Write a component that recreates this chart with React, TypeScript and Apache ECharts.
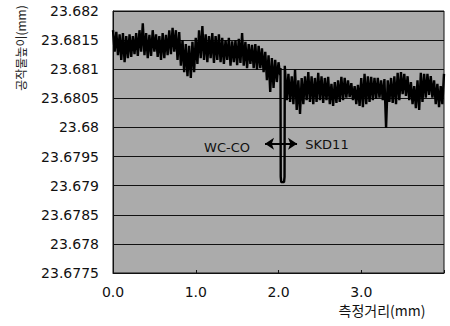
import React, { useEffect, useRef } from 'react';
import * as echarts from 'echarts';

// Measured workpiece height (mm) along measuring distance, WC-Co region (x = i * 0.02 mm)
const wcValues = [
  23.68167, 23.6813, 23.68164, 23.68124, 23.6816, 23.68116, 23.68162, 23.68112, 23.68157, 23.68119,
  23.6816, 23.68121, 23.68157, 23.68126, 23.68162, 23.68123, 23.68167, 23.6813, 23.68179, 23.68124,
  23.68162, 23.68119, 23.68159, 23.68123, 23.68167, 23.6813, 23.6816, 23.68121, 23.68157, 23.68116,
  23.68162, 23.68119, 23.68159, 23.68124, 23.68167, 23.68126, 23.68171, 23.6813, 23.68167, 23.68116,
  23.68164, 23.68106, 23.6815, 23.68095, 23.68143, 23.68088, 23.6814, 23.68085, 23.68147, 23.68095,
  23.68154, 23.68109, 23.68167, 23.68119, 23.68174, 23.68116, 23.6816, 23.68112, 23.68157, 23.68119,
  23.68162, 23.68111, 23.68157, 23.68116, 23.6816, 23.68112, 23.68154, 23.68109, 23.6815, 23.68116,
  23.68154, 23.68106, 23.68148, 23.68112, 23.6815, 23.68107, 23.68152, 23.68111, 23.68162, 23.68106,
  23.68147, 23.68102, 23.68143, 23.68109, 23.68142, 23.68102, 23.68143, 23.68099, 23.6814, 23.68102,
  23.68136, 23.68095, 23.6813, 23.68081, 23.68124, 23.68061, 23.68119, 23.68068, 23.68116, 23.68078,
  23.68112, 23.6809,
];

// Narrow dip at the WC-Co / SKD11 boundary
const dipX = [2.024, 2.027, 2.033, 2.067, 2.073, 2.076];
const dipY = [23.68102, 23.67915, 23.67906, 23.67906, 23.67915, 23.68106];

// SKD11 region (x = 2.08 + i * 0.02 mm)
const skdValues = [
  23.68106, 23.68047, 23.68092, 23.68044, 23.68088, 23.6804, 23.68099, 23.6803, 23.68081, 23.68023,
  23.68085, 23.6804, 23.68088, 23.68047, 23.68095, 23.68044, 23.68088, 23.6804, 23.68085, 23.68044,
  23.68094, 23.68047, 23.68088, 23.68042, 23.68085, 23.68047, 23.68087, 23.6804, 23.68075, 23.68037,
  23.68078, 23.68042, 23.68081, 23.68044, 23.68087, 23.68047, 23.68085, 23.68051, 23.68081, 23.68052,
  23.68076, 23.68047, 23.68071, 23.6804, 23.68073, 23.68037, 23.68085, 23.68035, 23.68092, 23.6804,
  23.68088, 23.68044, 23.68087, 23.68047, 23.68085, 23.68049, 23.68085, 23.68051, 23.68081, 23.68047,
  23.68083, 23.67999, 23.68081, 23.68044, 23.68085, 23.68042, 23.68088, 23.6804, 23.68094, 23.68047,
  23.68095, 23.68057, 23.68092, 23.68054, 23.68088, 23.68047, 23.68078, 23.6804, 23.68071, 23.68033,
  23.68081, 23.6803, 23.68094, 23.68044, 23.68092, 23.68051, 23.68092, 23.68056, 23.68088, 23.68051,
  23.68081, 23.6804, 23.68075, 23.68035, 23.68071, 23.6804, 23.68092,
];

const STEP = 0.02;
const SKD_START = 2.08;

const yMin = 23.6775;
const yMax = 23.682;
const yInterval = 0.0005;
const xMin = 0;
const xMax = 4;
const xInterval = 1;
const xTickLabels = ['0.0', '1.0', '2.0', '3.0'];

const arrowSpan = [1.837, 2.224];
const arrowLevel = 23.67972;

const yName = '공작물높이(mm)';
const xName = '측정거리(mm)';
const leftLabel = 'WC-CO';
const rightLabel = 'SKD11';

export default function App() {
  const ref = useRef<HTMLDivElement>(null);

  useEffect(() => {
    if (!ref.current) return;
    const chart = echarts.init(ref.current, undefined, { renderer: 'svg' });

    const data: [number, number][] = [];
    wcValues.forEach((v, i) => data.push([+(i * STEP).toFixed(3), v]));
    dipX.forEach((x, i) => data.push([x, dipY[i]]));
    skdValues.forEach((v, i) => data.push([+(SKD_START + i * STEP).toFixed(3), v]));

    const font = 'DejaVu Sans, Arial, sans-serif';
    const cjk = '"Noto Sans CJK KR", sans-serif';

    chart.setOption({
      animation: false,
      backgroundColor: '#ffffff',
      grid: {
        left: 113,
        right: 6,
        top: 11,
        bottom: 53,
        show: true,
        backgroundColor: '#ababab',
        borderColor: '#111',
        borderWidth: 1,
      },
      xAxis: {
        type: 'value',
        min: xMin,
        max: xMax,
        interval: xInterval,
        axisLine: { show: true, lineStyle: { color: '#111', width: 1 } },
        axisTick: { show: true, inside: true, length: 3, lineStyle: { color: '#111' } },
        splitLine: { show: false },
        axisLabel: {
          margin: 12,
          color: '#111',
          fontFamily: font,
          fontSize: 14,
          lineHeight: 14,
          formatter: (v: number) => {
            const idx = Math.round(v / xInterval);
            return xTickLabels[idx] ?? '';
          },
        },
      },
      yAxis: {
        type: 'value',
        min: yMin,
        max: yMax,
        interval: yInterval,
        axisLine: { show: true, lineStyle: { color: '#111', width: 1 } },
        axisTick: { show: false },
        splitLine: { show: true, lineStyle: { color: '#111', width: 1 } },
        axisLabel: {
          margin: 14,
          color: '#111',
          fontFamily: font,
          fontSize: 14,
          formatter: (v: number) => String(+v.toFixed(4)),
        },
      },
      series: [
        {
          type: 'line',
          data,
          showSymbol: false,
          symbol: 'none',
          lineStyle: { color: '#000', width: 2.4 },
          markLine: {
            silent: true,
            symbol: ['arrow', 'arrow'],
            symbolSize: [9, 9],
            label: { show: false },
            lineStyle: { color: '#000', width: 2, type: 'solid' },
            data: [[{ coord: [arrowSpan[0], arrowLevel] }, { coord: [arrowSpan[1], arrowLevel] }]],
          },
        },
      ],
      graphic: [
        {
          type: 'text',
          x: 20,
          y: 48,
          rotation: Math.PI / 2,
          style: {
            text: yName,
            fill: '#222',
            font: `12px ${cjk}`,
            align: 'center',
            verticalAlign: 'middle',
          },
        },
        {
          type: 'text',
          x: 382,
          y: 310,
          style: {
            text: xName,
            fill: '#111',
            font: `14px ${cjk}`,
            lineHeight: 15,
            align: 'center',
            verticalAlign: 'middle',
          },
        },
        {
          type: 'text',
          x: 227,
          y: 147,
          z: 10,
          style: {
            text: leftLabel,
            fill: '#111',
            font: `13px ${font}`,
            align: 'center',
            verticalAlign: 'middle',
          },
        },
        {
          type: 'text',
          x: 327,
          y: 144,
          z: 10,
          style: {
            text: rightLabel,
            fill: '#111',
            font: `13px ${font}`,
            align: 'center',
            verticalAlign: 'middle',
          },
        },
      ],
    });

    return () => chart.dispose();
  }, []);

  return <div ref={ref} style={{ position: 'absolute', left: 0, top: 0, width: 450, height: 326 }} />;
}
